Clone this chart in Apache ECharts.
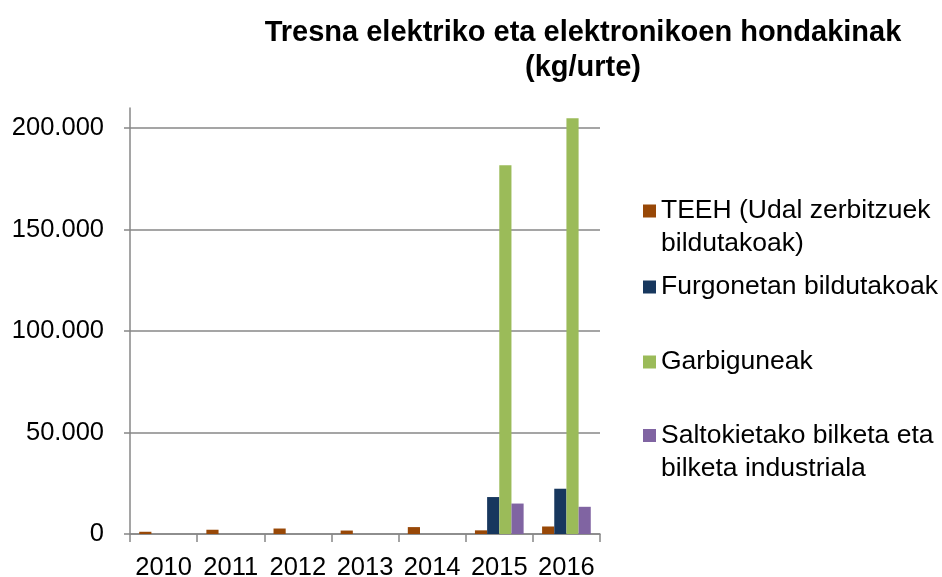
<!DOCTYPE html>
<html><head><meta charset="utf-8">
<script src="https://cdn.jsdelivr.net/npm/echarts@6/dist/echarts.min.js"></script>
<style>html,body{margin:0;padding:0;background:#fff}#c{width:942px;height:577px}</style>
</head><body><div id="c"></div>
<script>
const titleText = 'Tresna elektriko eta elektronikoen hondakinak\n(kg/urte)';
const years = ['2010', '2011', '2012', '2013', '2014', '2015', '2016'];
const seriesNames = ['TEEH (Udal zerbitzuek bildutakoak)', 'Furgonetan bildutakoak', 'Garbiguneak', 'Saltokietako bilketa eta bilketa industriala'];
const legendLabels = ['TEEH (Udal zerbitzuek\nbildutakoak)', 'Furgonetan bildutakoak', 'Garbiguneak', 'Saltokietako bilketa eta\nbilketa industriala'];
const teeh = [1100, 2100, 2700, 1700, 3400, 1800, 3700];
const furgonetan = [null, null, null, null, null, 18200, 22300];
const garbiguneak = [null, null, null, null, null, 181700, 204800];
const saltokietako = [null, null, null, null, null, 15000, 13400];
const yMax = 200000;
const yAxisTop = 210000;
const yInterval = 50000;

const colors = ['#984807', '#17375E', '#9BBB59', '#8064A2'];
const seriesData = [teeh, furgonetan, garbiguneak, saltokietako];
const FONT = '"Liberation Sans", Arial, sans-serif';
const GREY = '#878787';

const twoLineIcon = 'path://M0,0L13,0M0,10L13,10L13,23L0,23ZM0,66L13,66';
const legendTops = [194.5, 270.5, 345.5, 419];

const chart = echarts.init(document.getElementById('c'), null, {renderer: 'canvas'});

const legends = seriesNames.map((n, i) => {
  const twoLines = legendLabels[i].indexOf('\n') >= 0;
  return {
    data: [{name: n, icon: twoLines ? twoLineIcon : 'rect'}],
    left: 643, top: legendTops[i], padding: 0,
    itemWidth: 13, itemHeight: twoLines ? 66 : 13,
    selectedMode: false,
    formatter: () => legendLabels[i],
    textStyle: {fontFamily: FONT, fontSize: 26.5, lineHeight: 33, color: '#000', padding: [0, 0, 0, 0]}
  };
});

const option = {
  backgroundColor: '#fff',
  animation: false,
  title: {
    text: titleText, left: 583, top: 15, padding: 0, textAlign: 'center',
    textStyle: {fontFamily: FONT, fontSize: 29, fontWeight: 'bold', lineHeight: 35, color: '#000'}
  },
  legend: legends,
  grid: [
    {left: 130, top: 108, width: 470, height: 426, containLabel: false, outerBoundsMode: 'none'},
    {left: 130, top: 128, width: 470, height: 406, containLabel: false, outerBoundsMode: 'none'}
  ],
  xAxis: [
    {type: 'category', gridIndex: 0, data: years, show: false},
    {type: 'category', gridIndex: 1, data: years,
      axisLine: {show: true, lineStyle: {color: GREY, width: 1.5}},
      axisTick: {show: true, length: 8, interval: 0, lineStyle: {color: GREY, width: 1.5}},
      axisLabel: {interval: 0, margin: 21, fontFamily: FONT, fontSize: 25.5, lineHeight: 26, color: '#000'},
      splitLine: {show: false}
    }
  ],
  yAxis: [
    {type: 'value', gridIndex: 0, min: 0, max: yAxisTop,
      axisLine: {show: true, lineStyle: {color: GREY, width: 1.5}},
      axisTick: {show: false}, axisLabel: {show: false}, splitLine: {show: false}
    },
    {type: 'value', gridIndex: 1, min: 0, max: yMax, interval: yInterval,
      axisLine: {show: false},
      axisTick: {show: true, length: 6, lineStyle: {color: GREY, width: 1.5}},
      axisLabel: {margin: 26, fontFamily: FONT, fontSize: 25.5, color: '#000',
        formatter: v => v === 0 ? '0' : v.toLocaleString('de-DE')},
      splitLine: {show: true, lineStyle: {color: GREY, width: 1.5}}
    }
  ],
  series: seriesNames.map((n, i) => ({
    name: n, type: 'bar', xAxisIndex: 1, yAxisIndex: 1,
    data: seriesData[i], clip: false,
    barGap: '0%', barCategoryGap: '27.5%',
    itemStyle: {color: colors[i]}
  }))
};
chart.setOption(option);
</script>
</body></html>
